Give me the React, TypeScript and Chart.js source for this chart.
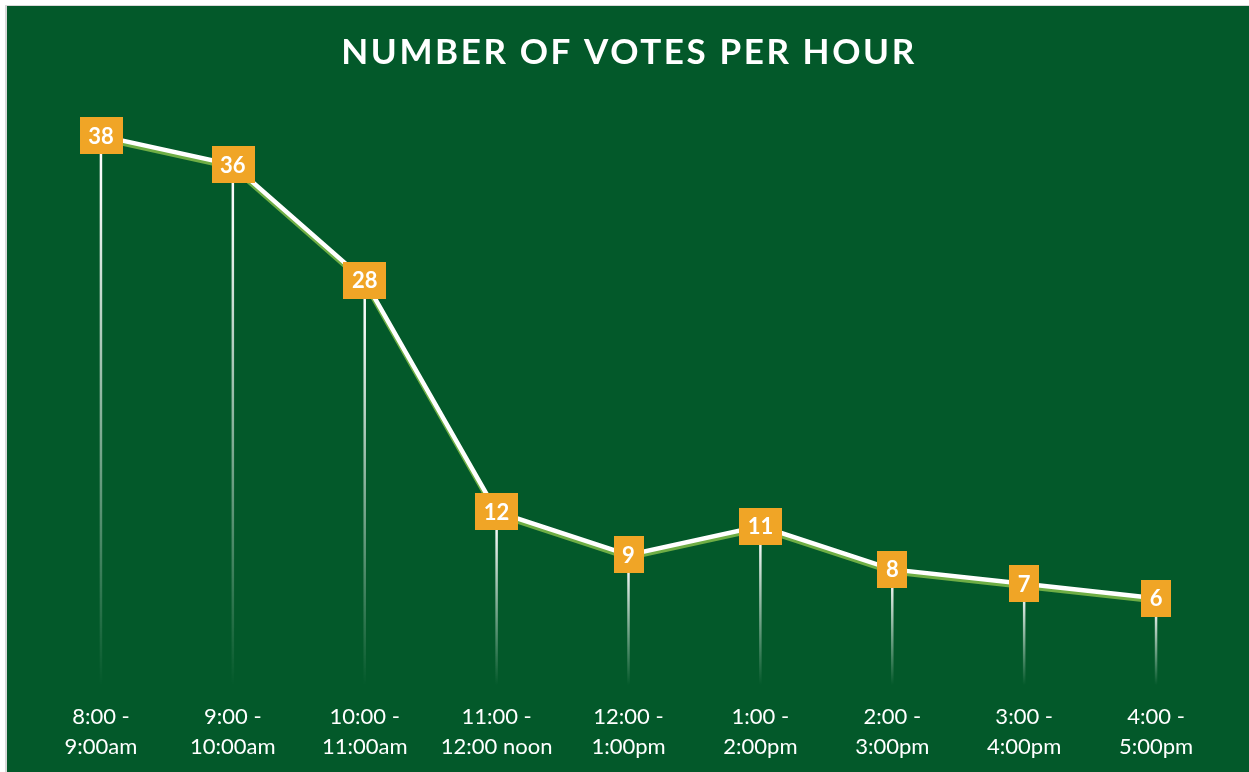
import React, { useEffect, useRef } from 'react';
import { Chart, registerables } from 'chart.js';

Chart.register(...registerables);

const chartTitle = 'NUMBER OF VOTES PER HOUR';
const categories: string[][] = [
  ['8:00 -', '9:00am'],
  ['9:00 -', '10:00am'],
  ['10:00 -', '11:00am'],
  ['11:00 -', '12:00 noon'],
  ['12:00 -', '1:00pm'],
  ['1:00 -', '2:00pm'],
  ['2:00 -', '3:00pm'],
  ['3:00 -', '4:00pm'],
  ['4:00 -', '5:00pm'],
];
const votes: number[] = [38, 36, 28, 12, 9, 11, 8, 7, 6];

const BG = '#03592A';
const ORANGE = '#F0A526';
const SHADOW_GREEN = '#6FAE45';
const FONT = 'Lato, Carlito, "Open Sans", sans-serif';

const dropLines = {
  id: 'dropLines',
  beforeDatasetsDraw(chart: any) {
    const ctx = chart.ctx;
    const meta = chart.getDatasetMeta(0);
    const y0 = chart.scales.y.getPixelForValue(0);
    ctx.save();
    meta.data.forEach((p: any) => {
      const g = ctx.createLinearGradient(0, p.y, 0, y0);
      g.addColorStop(0, 'rgba(255,255,255,1)');
      g.addColorStop(0.12, 'rgba(255,255,255,0.95)');
      g.addColorStop(1, 'rgba(255,255,255,0)');
      ctx.strokeStyle = g;
      ctx.lineWidth = 2.5;
      ctx.beginPath();
      ctx.moveTo(p.x, p.y);
      ctx.lineTo(p.x, y0);
      ctx.stroke();
    });
    ctx.restore();
  },
};

const lineShadow = {
  id: 'lineShadow',
  beforeDatasetDraw(chart: any) {
    const ctx = chart.ctx;
    ctx.save();
    ctx.shadowColor = SHADOW_GREEN;
    ctx.shadowOffsetX = 0;
    ctx.shadowOffsetY = 3;
    ctx.shadowBlur = 0;
  },
  afterDatasetDraw(chart: any) {
    chart.ctx.restore();
  },
};

const boxLabels = {
  id: 'boxLabels',
  afterDatasetsDraw(chart: any) {
    const ctx = chart.ctx;
    const meta = chart.getDatasetMeta(0);
    const data = chart.data.datasets[0].data;
    ctx.save();
    ctx.font = `bold 22px ${FONT}`;
    ctx.textAlign = 'center';
    ctx.textBaseline = 'middle';
    meta.data.forEach((p: any, i: number) => {
      const txt = String(data[i]);
      const w = ctx.measureText(txt).width + 17;
      const h = 37;
      ctx.fillStyle = ORANGE;
      ctx.fillRect(Math.round(p.x - w / 2), Math.round(p.y - h / 2), Math.round(w), h);
      ctx.fillStyle = '#FFFFFF';
      ctx.fillText(txt, p.x, p.y + 1);
    });
    ctx.restore();
  },
};

const titlePlugin = {
  id: 'customTitle',
  afterDraw(chart: any) {
    const ctx = chart.ctx;
    ctx.save();
    ctx.font = `bold 35px ${FONT}`;
    (ctx as any).letterSpacing = '2.6px';
    ctx.fillStyle = '#FFFFFF';
    ctx.textAlign = 'center';
    ctx.textBaseline = 'middle';
    ctx.fillText(chartTitle, chart.width / 2 + 1, 47);
    ctx.restore();
  },
};

export default function App() {
  const ref = useRef<HTMLCanvasElement | null>(null);

  useEffect(() => {
    if (!ref.current) return;
    const chart = new Chart(ref.current, {
      type: 'line',
      data: {
        labels: categories,
        datasets: [
          {
            data: votes,
            borderColor: '#FFFFFF',
            borderWidth: 4.5,
            pointRadius: 0,
            tension: 0,
            fill: false,
          },
        ],
      },
      options: {
        animation: false,
        responsive: false,
        devicePixelRatio: 1,
        layout: { autoPadding: false, padding: { top: 101, left: 28, right: 27, bottom: 0 } },
        plugins: { legend: { display: false }, tooltip: { enabled: false }, title: { display: false } },
        scales: {
          x: {
            offset: true,
            grid: { display: false },
            border: { display: false },
            ticks: {
              color: '#FFFFFF',
              font: { family: FONT, size: 22, lineHeight: 1.36 },
              padding: 9,
              maxRotation: 0,
              autoSkip: false,
            },
            afterFit: (s: any) => {
              s.height = 87;
            },
          },
          y: {
            display: false,
            min: 0,
            max: 40,
          },
        },
      },
      plugins: [dropLines, lineShadow, boxLabels, titlePlugin],
    });
    return () => chart.destroy();
  }, []);

  return (
    <div style={{ position: 'fixed', left: 0, top: 0, width: 1249, height: 772, background: '#FFFFFF', overflow: 'hidden' }}>
      <div style={{ position: 'absolute', left: 5, top: 5, width: 1244, height: 767, background: '#D9D9D9' }} />
      <canvas
        ref={ref}
        width={1242}
        height={766}
        style={{ position: 'absolute', left: 7, top: 6, width: 1242, height: 766, background: BG }}
      />
    </div>
  );
}
